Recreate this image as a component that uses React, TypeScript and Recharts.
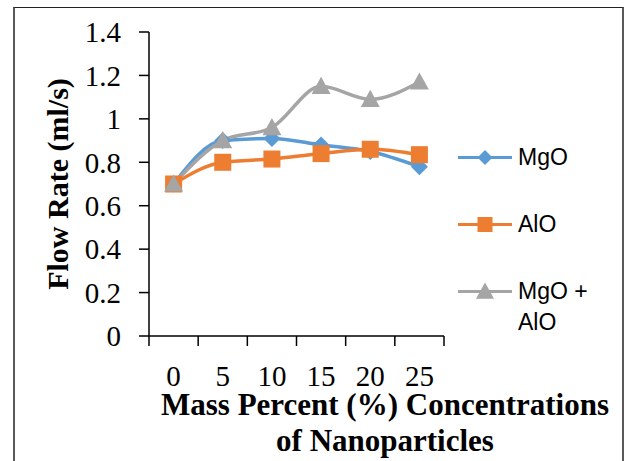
import React from 'react';
import { LineChart, Line, XAxis, YAxis, Legend } from 'recharts';

const concentrations = [0, 5, 10, 15, 20, 25];
const mgo = [0.7, 0.9, 0.91, 0.88, 0.85, 0.78];
const alo = [0.7, 0.8, 0.815, 0.84, 0.86, 0.835];
const mgoAlo = [0.7, 0.9, 0.96, 1.15, 1.09, 1.17];
const yTicks = [0, 0.2, 0.4, 0.6, 0.8, 1, 1.2, 1.4];
const boundaryTicks = [-2.5, 2.5, 7.5, 12.5, 17.5, 22.5, 27.5];
const xTicks = [...boundaryTicks, ...concentrations].sort((a, b) => a - b);

const series = [
  { key: 'mgo', name: 'MgO', color: '#5B9BD5', shape: 'diamond' },
  { key: 'alo', name: 'AlO', color: '#ED7D31', shape: 'square' },
  { key: 'mix', name: 'MgO + AlO', color: '#A5A5A5', shape: 'triangle' },
];

const data = concentrations.map((c, i) => ({ c, mgo: mgo[i], alo: alo[i], mix: mgoAlo[i] }));

const SERIF = '"Liberation Serif", "Times New Roman", serif';
const SANS = '"Liberation Sans", Arial, sans-serif';

function Marker({ cx, cy, shape, color, size }: any) {
  if (cx == null || cy == null) return null;
  const h = size / 2;
  if (shape === 'diamond') {
    return <polygon points={`${cx},${cy - h} ${cx + h},${cy} ${cx},${cy + h} ${cx - h},${cy}`} fill={color} />;
  }
  if (shape === 'square') {
    return <rect x={cx - h} y={cy - h} width={size} height={size} fill={color} />;
  }
  return <polygon points={`${cx},${cy - h} ${cx + h},${cy + h * 0.8} ${cx - h},${cy + h * 0.8}`} fill={color} />;
}

const makeDot = (shape: string, color: string, size: number) => (props: any) => (
  <Marker key={`${shape}-${props.index}`} cx={props.cx} cy={props.cy} shape={shape} color={color} size={size} />
);

function XTick(props: any) {
  const { x, y, payload } = props;
  const v = Number(payload.value);
  const isBoundary = boundaryTicks.indexOf(v) >= 0;
  return (
    <g>
      {isBoundary ? (
        <line x1={x} y1={y} x2={x} y2={y + 10} stroke="#000" strokeWidth={1.5} />
      ) : (
        <text x={x} y={y + 29} dy="0.71em" textAnchor="middle" fontFamily={SERIF} fontSize={29} fill="#000">
          {String(v)}
        </text>
      )}
    </g>
  );
}

function LegendContent() {
  return (
    <div style={{ fontFamily: SANS, fontSize: 23, color: '#000' }}>
      {series.map((s, i) => (
        <div key={s.key} style={{ display: 'flex', alignItems: 'flex-start', marginBottom: i < series.length - 1 ? 36 : 0 }}>
          <svg width={56} height={31} style={{ flex: 'none' }}>
            <line x1={2} y1={15.5} x2={56} y2={15.5} stroke={s.color} strokeWidth={3} />
            <Marker cx={29} cy={15.5} shape={s.shape} color={s.color} size={s.shape === 'triangle' ? 18 : 15} />
          </svg>
          <div style={{ marginLeft: 6, lineHeight: '31px', width: 90 }}>{s.name}</div>
        </div>
      ))}
    </div>
  );
}

function YLabel({ viewBox }: any) {
  const x = viewBox.x - 12;
  const y = viewBox.y + viewBox.height / 2;
  return (
    <text
      x={x}
      y={y}
      transform={`rotate(-90, ${x}, ${y})`}
      textAnchor="middle"
      dominantBaseline="central"
      fontFamily={SERIF}
      fontWeight="bold"
      fontSize={30}
      fill="#000"
    >
      Flow Rate (ml/s)
    </text>
  );
}

export default function App() {
  return (
    <div style={{ position: 'absolute', left: 0, top: 0, width: 629, height: 461, overflow: 'hidden', background: '#fff' }}>
      <div
        style={{
          position: 'absolute',
          left: 13,
          top: 7,
          width: 607,
          height: 470,
          borderLeft: '2px solid #595959',
          borderRight: '2px solid #595959',
          borderTop: '1px solid #222',
        }}
      />
      <div style={{ position: 'absolute', left: 0, top: 0 }}>
        <LineChart width={629} height={461} data={data} margin={{ top: 32, right: 185, left: 69, bottom: 95 }}>
          <XAxis
            type="number"
            dataKey="c"
            domain={[-2.5, 27.5]}
            allowDataOverflow
            ticks={xTicks}
            interval={0}
            tickSize={0}
            tickMargin={0}
            height={30}
            axisLine={{ stroke: '#000', strokeWidth: 1.5 }}
            tickLine={false}
            tick={<XTick />}
          />
          <YAxis
            type="number"
            domain={[0, 1.4]}
            ticks={yTicks}
            interval={0}
            width={80}
            tickSize={10}
            tickMargin={18}
            axisLine={{ stroke: '#000', strokeWidth: 1.5 }}
            tickLine={{ stroke: '#000', strokeWidth: 1.5 }}
            tick={{ fontFamily: SERIF, fontSize: 29, fill: '#000' }}
            label={<YLabel />}
          />
          <Legend
            layout="vertical"
            align="center"
            verticalAlign="middle"
            content={<LegendContent />}
            wrapperStyle={{ left: 456, top: 142, width: 170 }}
          />
          <Line
            type="monotone"
            dataKey="mgo"
            name="MgO"
            stroke="#5B9BD5"
            strokeWidth={3.5}
            dot={makeDot('diamond', '#5B9BD5', 17)}
            isAnimationActive={false}
          />
          <Line
            type="monotone"
            dataKey="alo"
            name="AlO"
            stroke="#ED7D31"
            strokeWidth={3.5}
            dot={makeDot('square', '#ED7D31', 17)}
            isAnimationActive={false}
          />
          <Line
            type="monotone"
            dataKey="mix"
            name="MgO + AlO"
            stroke="#A5A5A5"
            strokeWidth={3.5}
            dot={makeDot('triangle', '#A5A5A5', 19)}
            isAnimationActive={false}
          />
        </LineChart>
      </div>
      <div
        style={{
          position: 'absolute',
          left: 155,
          top: 387,
          width: 460,
          textAlign: 'center',
          fontFamily: SERIF,
          fontWeight: 'bold',
          fontSize: 31,
          lineHeight: '36px',
          color: '#000',
        }}
      >
        Mass Percent (%) Concentrations
        <br />
        of Nanoparticles
      </div>
    </div>
  );
}
